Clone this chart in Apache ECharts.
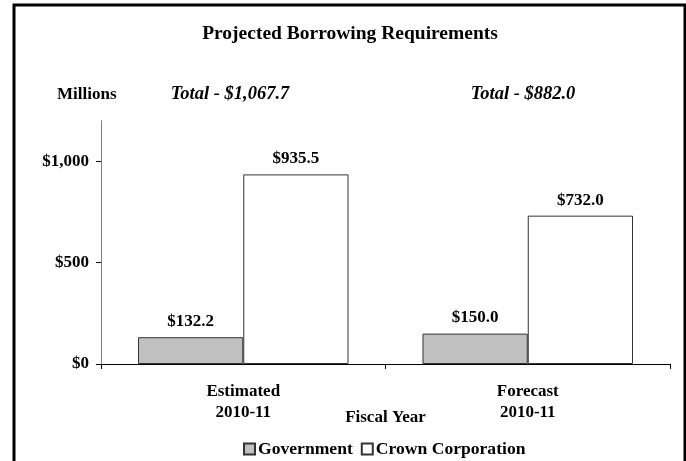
<!DOCTYPE html>
<html>
<head>
<meta charset="utf-8">
<script src="https://cdn.jsdelivr.net/npm/echarts@6/dist/echarts.min.js"></script>
<style>
  html, body { margin: 0; padding: 0; background: #fff; }
  #main { width: 686px; height: 461px; }
</style>
</head>
<body>
<div id="main"></div>
<script>
const categories = ["Estimated\n2010-11", "Forecast\n2010-11"];
const government = [132.2, 150.0];
const crown = [935.5, 732.0];
const totals = ["Total - $1,067.7", "Total - $882.0"];
const yTicks = [0, 500, 1000];

const FONT = '"Liberation Serif", "Times New Roman", serif';

function money(v) {
  return "$" + v.toLocaleString("en-US");
}

const barLabel = {
  show: true,
  position: "top",
  distance: 7,
  color: "#000",
  fontFamily: FONT,
  fontWeight: "bold",
  fontSize: 17,
  formatter: function (p) {
    return "$" + p.value.toFixed(1);
  },
};

let myChart = echarts.init(document.getElementById("main"));
myChart.setOption({
  backgroundColor: "#fff",
  animation: false,
  title: [
    {
      text: "Projected Borrowing Requirements",
      left: 350,
      top: 24,
      padding: 0,
      textAlign: "center",
      textStyle: { fontFamily: FONT, fontWeight: "bold", fontSize: 19.5, color: "#000" },
    },
    {
      text: "Millions",
      left: 57,
      top: 86,
      padding: 0,
      textStyle: { fontFamily: FONT, fontWeight: "bold", fontSize: 17, color: "#000" },
    },
    {
      text: totals[0],
      left: 230,
      top: 85,
      padding: 0,
      textAlign: "center",
      textStyle: { fontFamily: FONT, fontWeight: "bold", fontStyle: "italic", fontSize: 18.5, color: "#000" },
    },
    {
      text: totals[1],
      left: 523,
      top: 85,
      padding: 0,
      textAlign: "center",
      textStyle: { fontFamily: FONT, fontWeight: "bold", fontStyle: "italic", fontSize: 18.5, color: "#000" },
    },
  ],
  graphic: [
    {
      type: "rect",
      z: 100,
      silent: true,
      shape: { x: 14, y: 5, width: 671, height: 480 },
      style: { fill: null, stroke: "#000", lineWidth: 3 },
    },
  ],
  legend: {
    top: 440,
    left: 243,
    padding: 0,
    itemWidth: 11,
    itemHeight: 11,
    itemGap: 8,
    icon: "rect",
    textStyle: { fontFamily: FONT, fontWeight: "bold", fontSize: 17.6, color: "#000", padding: [0, 0, 0, -2] },
    data: ["Government", "Crown Corporation"],
  },
  grid: {
    left: 101,
    right: 16,
    top: 120.8,
    bottom: 97,
  },
  xAxis: {
    type: "category",
    data: categories,
    name: "Fiscal Year",
    nameLocation: "middle",
    nameGap: 45,
    nameMoveOverlap: false,
    nameTextStyle: { fontFamily: FONT, fontWeight: "bold", fontSize: 17, color: "#000" },
    axisLine: { lineStyle: { color: "#000", width: 1 } },
    axisTick: { show: true, length: 5, lineStyle: { color: "#000" } },
    axisLabel: {
      margin: 17,
      lineHeight: 21,
      color: "#000",
      fontFamily: FONT,
      fontWeight: "bold",
      fontSize: 17,
    },
    splitLine: { show: false },
  },
  yAxis: {
    type: "value",
    min: 0,
    max: 1200,
    interval: 500,
    axisLine: { show: true, lineStyle: { color: "#808080", width: 1 } },
    axisTick: { show: true, length: 5, customValues: yTicks, lineStyle: { color: "#000" } },
    axisLabel: {
      customValues: yTicks,
      margin: 12,
      color: "#000",
      fontFamily: FONT,
      fontWeight: "bold",
      fontSize: 17,
      formatter: money,
    },
    splitLine: { show: false },
  },
  series: [
    {
      name: "Government",
      type: "bar",
      data: government,
      barGap: "0%",
      barCategoryGap: "26%",
      itemStyle: { color: "#c0c0c0", borderColor: "#333", borderWidth: 1 },
      label: barLabel,
    },
    {
      name: "Crown Corporation",
      type: "bar",
      data: crown,
      itemStyle: { color: "#fff", borderColor: "#333", borderWidth: 1 },
      label: barLabel,
    },
  ],
});
</script>
</body>
</html>
